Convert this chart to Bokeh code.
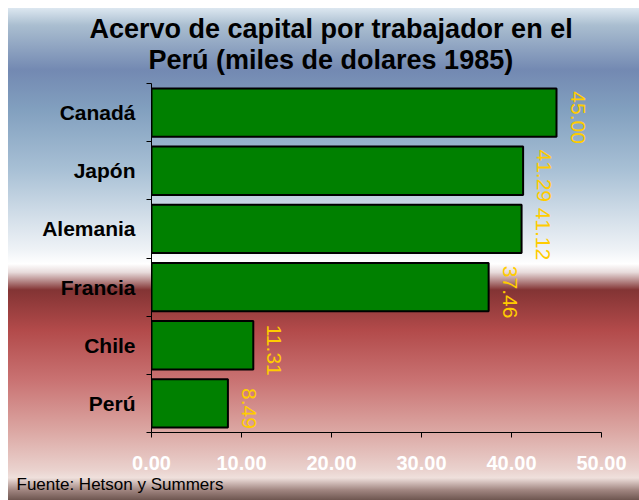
import math
from bokeh.plotting import figure
from bokeh.models import Range1d, FixedTicker, NumeralTickFormatter, Title, ColumnDataSource
from bokeh.core.properties import value
from bokeh.embed import file_html
from bokeh.resources import INLINE

categories = ["Canadá", "Japón", "Alemania", "Francia", "Chile", "Perú"]
values = [45.00, 41.29, 41.12, 37.46, 11.31, 8.49]
value_labels = ["45.00", "41.29", "41.12", "37.46", "11.31", "8.49"]
x_ticks = [0, 10, 20, 30, 40, 50]
title_lines = ["Acervo de capital por trabajador en el", "Perú (miles de dolares 1985)"]
source_note = "Fuente: Hetson y Summers"

n = len(categories)
ypos = [n - i - 0.5 for i in range(n)]
src = ColumnDataSource(dict(y=ypos, v=values, lab=value_labels, cat=categories))

p = figure(width=639, height=500, output_backend="svg", toolbar_location=None,
           x_range=Range1d(0, 50), y_range=Range1d(0, n),
           min_border_left=151, min_border_right=38, min_border_top=83, min_border_bottom=68)

p.background_fill_alpha = 0
p.border_fill_alpha = 0
p.outline_line_color = None
p.styles = {"background": "linear-gradient(to bottom, #dce7f0 0%, #aabed0 3.5%, #7389b2 12.6%, "
            "#82a0bf 20.7%, #a8c0d5 32.9%, #d5e0ea 43%, #eef2f6 49%, #ffffff 52%, #e8dcdc 53.7%, "
            "#833434 57.3%, #b24a4a 65.4%, #c97272 75.6%, #dba6a2 85.8%, #ead2ce 93.9%, "
            "#efe0dc 95.5%, #a08580 98%, #6e5650 100%) 8px 8px / 631px 492px no-repeat, #ffffff"}

p.hbar(y="y", right="v", left=0, height=0.83, source=src,
       fill_color="#008000", line_color="black", line_width=2)

p.text(x="v", y="y", text="lab", source=src, angle=-math.pi / 2,
       x_offset=21, y_offset=5, text_align="center", text_baseline="middle",
       text_color="#FFCC00", text_font_size="21px", text_font=value("Liberation Sans"))

p.xgrid.grid_line_color = None
p.ygrid.grid_line_color = None

xa = p.xaxis[0]
xa.ticker = FixedTicker(ticks=x_ticks)
xa.formatter = NumeralTickFormatter(format="0.00")
xa.axis_line_color = "black"
xa.major_tick_line_color = "black"
xa.major_tick_in = 0
xa.major_tick_out = 5
xa.minor_tick_line_color = None
xa.major_label_text_color = "white"
xa.major_label_text_font_style = "bold"
xa.major_label_text_font_size = "20px"
xa.major_label_text_font = "Liberation Sans"
xa.major_label_standoff = 18

ya = p.yaxis[0]
ya.ticker = FixedTicker(ticks=ypos, minor_ticks=list(range(n + 1)))
ya.major_label_overrides = {y: c for y, c in zip(ypos, categories)}
ya.axis_line_color = "black"
ya.major_tick_in = 0
ya.major_tick_out = 0
ya.minor_tick_in = 0
ya.minor_tick_out = 5
ya.minor_tick_line_color = "black"
ya.major_label_text_color = "black"
ya.major_label_text_font_style = "bold"
ya.major_label_text_font_size = "21px"
ya.major_label_text_font = "Liberation Sans"
ya.major_label_standoff = 11

p.add_layout(Title(text=title_lines[1], align="left", offset=-3, standoff=18, text_font_size="27px",
                   text_line_height=1.0,
                   text_font="Liberation Sans", text_font_style="bold", text_color="black"), "above")
p.add_layout(Title(text=title_lines[0], align="left", offset=-62, standoff=-21, text_font_size="27px",
                   text_line_height=1.0,
                   text_font="Liberation Sans", text_font_style="bold", text_color="black"), "above")
p.add_layout(Title(text=source_note, align="left", offset=-135, standoff=0,
                   text_font_size="17px", text_line_height=1.0,
                   text_font="Liberation Sans", text_font_style="normal", text_color="black"), "below")

open("out.html", "w").write(file_html(p, INLINE))
